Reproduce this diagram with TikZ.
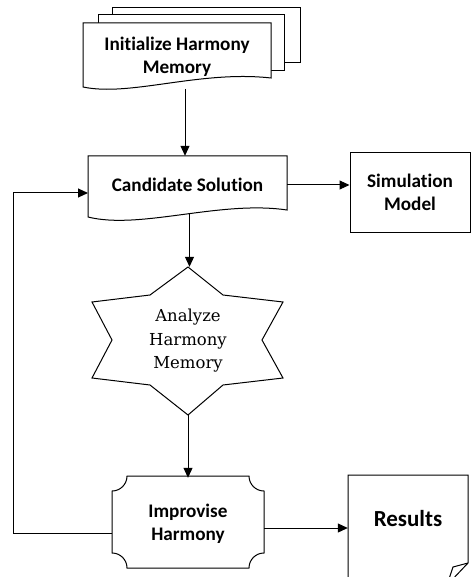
\documentclass[tikz,border=0pt]{standalone}
\usepackage{fontspec}
\setmainfont{Carlito}[Ligatures=NoCommon]
\newfontfamily\slabfont{DejaVu Serif}
\usetikzlibrary{arrows.meta,calc}
\tikzset{
  label/.style={font=\bfseries\fontsize{19.2}{23}\selectfont, align=center, inner sep=0pt},
  slab/.style={font=\slabfont\fontsize{16.5}{23.5}\selectfont, align=center, inner sep=0pt},
  outline/.style={draw=black, line width=1pt, fill=white},
  flow/.style={line width=1pt, -{Triangle[length=10pt,width=9pt]}},
  wire/.style={line width=1pt}
}
\begin{document}
\begin{tikzpicture}[x=1pt, y=-1pt]
  \useasboundingbox (0,0) rectangle (472,577);
  \clip (0,0) rectangle (472,577);
  % Initialize Harmony Memory (stack of pages)
  \draw[outline] (112,8) rectangle (300,63);
  \draw[outline] (98,15) rectangle (284,71);
  \draw[outline] (83,87) -- (83,23) -- (271,23) -- (271,78)
    .. controls (200,70) and (130,97) .. (83,87) -- cycle;
  \node[label, minimum width=188, minimum height=64] (init) at (177,57) {Initialize Harmony\\Memory};
  \coordinate (initfoot) at (185,89);
  % Candidate Solution (document)
  \draw[outline] (88,217) -- (88,156) -- (287,156) -- (287,210)
    .. controls (220,200) and (140,230) .. (88,217) -- cycle;
  \node[label, minimum width=199, minimum height=58] (cand) at (187.5,185) {Candidate Solution};
  % Simulation Model
  \node[label, outline, minimum width=120, minimum height=79] (sim) at (410,192.5) {Simulation\\Model};
  % Analyze Harmony Memory (star)
  \draw[outline] (188,267) -- (223,295) -- (283,302) -- (262,340) -- (283,378) -- (223,385)
    -- (188,415) -- (150,385) -- (92,378) -- (112,340) -- (92,302) -- (150,295) -- cycle;
  \node[slab, minimum width=191, minimum height=148] (star) at (188,341) {Analyze\\Harmony\\Memory};
  % Improvise Harmony (concave corners)
  \draw[outline] (127,476) -- (249,476) .. controls (249,484.3) and (255.7,491) .. (264,491)
    -- (264,553) .. controls (255.7,553) and (249,559.7) .. (249,568)
    -- (127,568) .. controls (127,559.7) and (120.3,553) .. (112,553)
    -- (112,491) .. controls (120.3,491) and (127,484.3) .. (127,476) -- cycle;
  \node[label, minimum width=152, minimum height=92] (impr) at (188,524) {Improvise\\Harmony};
  % Results (page with folded corner)
  \draw[outline] (348,475) -- (468,475) -- (468,563) -- (450,582) -- (348,582) -- cycle;
  \draw[wire, line join=round] (468,563) -- (453,567) -- (449,579);
  \node[label, font=\bfseries\fontsize{23}{28}\selectfont, minimum width=120, minimum height=90] (res) at (408,519) {Results};
  % Connectors
  \coordinate (candfoot) at ($(cand.south)+(2,0)$);
  \coordinate (improut) at (264,528);
  \coordinate (imprback) at (112,533);
  \coordinate (candin) at (88,193);
  \coordinate (back) at (13,0);
  \draw[flow] (initfoot) -- (initfoot |- cand.north);
  \draw[flow] (cand.east) -- (cand.east -| sim.west);
  \draw[flow] (candfoot) -- (candfoot |- star.north);
  \draw[flow] (star.south) -- (impr.north);
  \draw[flow] (improut) -- (improut -| res.west);
  \draw[flow] (imprback) -- (imprback -| back) |- (candin);
\end{tikzpicture}
\end{document}
